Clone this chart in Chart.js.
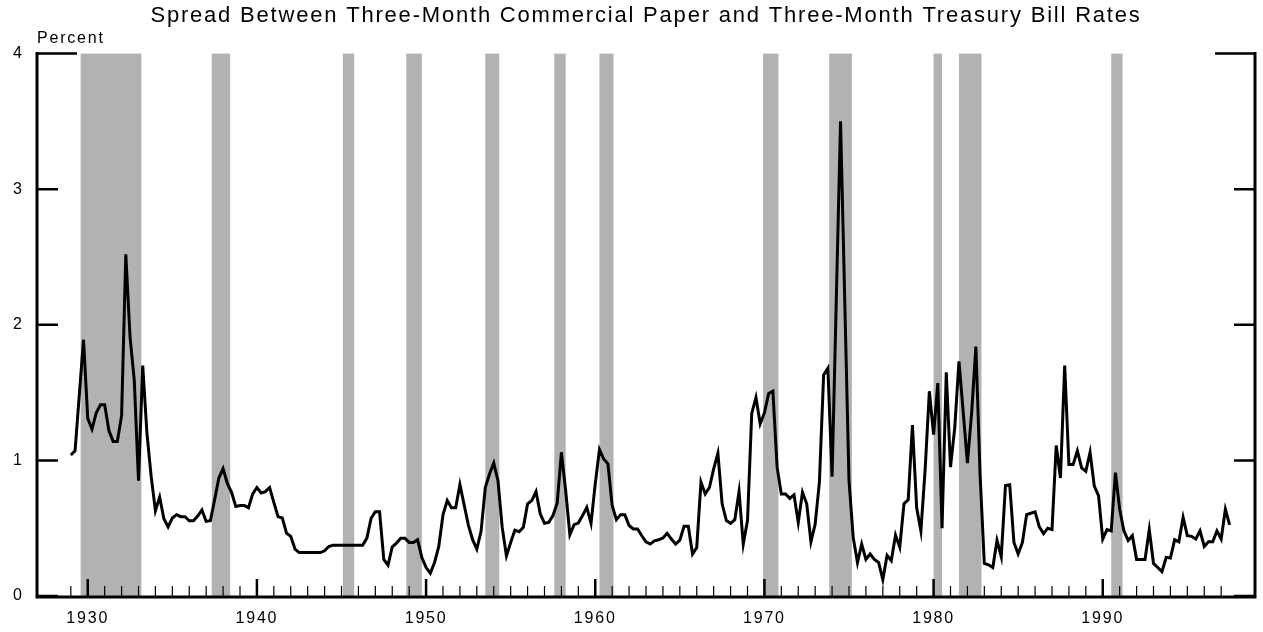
<!DOCTYPE html>
<html>
<head>
<meta charset="utf-8">
<script src="https://cdn.jsdelivr.net/npm/chart.js@4/dist/chart.umd.min.js"></script>
<style>
  html, body { margin: 0; padding: 0; background: #ffffff; }
  #wrap { width: 1263px; height: 632px; }
</style>
</head>
<body>
<div id="wrap"><canvas id="chart" width="1263" height="632"></canvas></div>
<script>
// ---------------- data ----------------
const titleText = 'Spread Between Three-Month Commercial Paper and Three-Month Treasury Bill Rates';
const unitLabel = 'Percent';

// quarterly observations, first one at 1929 Q1 (null = no visible vertex, line runs straight through)
const firstQuarter = 1929.0;
const spread = [
  1.04, 1.07, null, 1.89,          // 1929
  1.31, 1.23, 1.35, 1.41,          // 1930
  1.41, 1.22, 1.14, 1.14,          // 1931
  1.33, 2.52, 1.91, 1.59,          // 1932
  0.85, 1.70, 1.20, 0.88,          // 1933
  0.63, 0.73, 0.57, 0.51,          // 1934
  0.575, 0.60, 0.585, 0.585,       // 1935
  0.555, 0.555, 0.59, 0.635,       // 1936
  0.55, 0.555, 0.71, 0.87,         // 1937
  0.94, 0.83, 0.765, 0.66,         // 1938
  0.667, 0.667, 0.65, 0.753,       // 1939
  0.80, 0.76, 0.77, 0.80,          // 1940
  0.69, 0.585, 0.575, 0.464,       // 1941
  0.44, 0.346, 0.32, 0.32,         // 1942
  0.32, 0.32, 0.32, 0.32,          // 1943
  0.333, 0.365, 0.375, 0.375,      // 1944
  0.375, 0.375, 0.375, 0.375,      // 1945
  0.375, 0.375, 0.427, 0.573,      // 1946
  0.622, 0.622, 0.27, 0.227,       // 1947
  0.363, 0.39, 0.425, 0.425,       // 1948
  0.395, 0.395, 0.415, 0.284,      // 1949
  0.21, 0.168, 0.247, 0.365,       // 1950
  0.598, 0.704, 0.65, 0.65,        // 1951
  0.822, 0.672, 0.523, 0.415,      // 1952
  0.346, 0.477, 0.80, 0.90,        // 1953
  0.98, 0.85, 0.506, 0.296,        // 1954
  0.395, 0.486, 0.474, 0.506,      // 1955
  0.68, 0.704, 0.77, 0.605,        // 1956
  0.536, 0.543, 0.593, 0.684,      // 1957
  1.06, 0.778, 0.452, 0.526,       // 1958
  0.538, 0.593, 0.654, 0.536,      // 1959
  0.827, 1.08, 1.01, 0.975,        // 1960
  0.667, 0.563, 0.60, 0.60,        // 1961
  0.52, 0.494, 0.494, 0.444,       // 1962
  0.40, 0.383, 0.407, 0.415,       // 1963
  0.427, 0.462, 0.42, 0.383,       // 1964
  0.412, 0.514, 0.514, 0.309,      // 1965
  0.358, 0.84, 0.753, 0.80,        // 1966
  0.938, 1.054, 0.68, 0.556,       // 1967
  0.536, 0.563, 0.77, 0.383,       // 1968
  0.556, 1.346, 1.464, 1.27,       // 1969
  1.35, 1.494, 1.51, 0.95,         // 1970
  0.753, 0.753, 0.72, 0.746,       // 1971
  0.543, 0.765, 0.68, 0.40,        // 1972
  0.53, 0.84, 1.63, 1.68,          // 1973
  0.88, null, 3.50, null,          // 1974
  0.85, 0.43, 0.247, 0.383,        // 1975
  0.27, 0.31, 0.27, 0.247,         // 1976
  0.12, 0.30, 0.26, 0.45,          // 1977
  0.36, 0.68, 0.71, 1.26,          // 1978
  0.65, 0.48, 0.93, 1.51,          // 1979
  1.19, 1.57, 0.50, 1.65,          // 1980
  0.95, 1.24, 1.73, 1.36,          // 1981
  0.98, 1.35, 1.84, 0.89,          // 1982
  0.24, 0.23, 0.21, 0.41,          // 1983
  0.29, 0.815, 0.82, 0.395,        // 1984
  0.31, 0.395, 0.60, 0.61,         // 1985
  0.62, 0.51, 0.46, 0.50,          // 1986
  0.49, 1.11, 0.87, 1.70,          // 1987
  0.97, 0.97, 1.07, 0.945,         // 1988
  0.92, 1.06, 0.81, 0.74,          // 1989
  0.42, 0.49, 0.48, 0.91,          // 1990
  0.64, 0.48, 0.41, 0.445,         // 1991
  0.27, 0.27, 0.27, 0.49,          // 1992
  0.24, 0.21, 0.18, 0.285,         // 1993
  0.28, 0.415, 0.40, 0.58,         // 1994
  0.445, 0.44, 0.42, 0.48,         // 1995
  0.365, 0.40, 0.40, 0.48,         // 1996
  0.42, 0.64, 0.525                // 1997
];

// NBER recessions (decimal years)
const recessionStart = [1929.58, 1937.33, 1945.08, 1948.83, 1953.50, 1957.58, 1960.25, 1969.92, 1973.83, 1980.00, 1981.50, 1990.50];
const recessionEnd   = [1933.17, 1938.42, 1945.75, 1949.75, 1954.33, 1958.25, 1961.08, 1970.83, 1975.17, 1980.50, 1982.83, 1991.17];

// axes
const xTickYears = [1930, 1940, 1950, 1960, 1970, 1980, 1990];
const minorTickYears = [];
for (let yr = 1929; yr <= 1997; yr++) minorTickYears.push(yr);
const yTickValues = [0, 1, 2, 3, 4];
const xRange = [1927, 1999];
const yRange = [0, 4];

// ---------------- chart ----------------
const points = spread.map((v, i) => ({ x: firstQuarter + i / 4, y: v }));
const FONT = "'Liberation Sans', Arial, Helvetica, sans-serif";

const spacingPlugin = {
  id: 'spacing',
  beforeUpdate(chart) { chart.ctx.letterSpacing = '1.8px'; },
  beforeDraw(chart) { chart.ctx.letterSpacing = '1.8px'; }
};

const recessionPlugin = {
  id: 'recessions',
  beforeDatasetsDraw(chart) {
    const { ctx, scales: { x, y } } = chart;
    const top = y.getPixelForValue(yRange[1]);
    const bottom = y.getPixelForValue(yRange[0]);
    ctx.save();
    ctx.fillStyle = '#b2b2b2';
    for (let i = 0; i < recessionStart.length; i++) {
      const x1 = x.getPixelForValue(recessionStart[i]);
      const x2 = x.getPixelForValue(recessionEnd[i]);
      ctx.fillRect(x1, top, x2 - x1, bottom - top);
    }
    ctx.restore();
  }
};

const framePlugin = {
  id: 'frame',
  afterDatasetsDraw(chart) {
    const { ctx, scales: { x, y } } = chart;
    const left = x.getPixelForValue(xRange[0]);
    const right = x.getPixelForValue(xRange[1]);
    const top = y.getPixelForValue(yRange[1]);
    const base = y.getPixelForValue(yRange[0]);
    ctx.save();
    ctx.strokeStyle = '#000';
    ctx.lineCap = 'butt';
    ctx.lineWidth = 3;
    ctx.beginPath();
    ctx.moveTo(left, top - 1.5); ctx.lineTo(left, base + 2.5);
    ctx.moveTo(right, top - 1.5); ctx.lineTo(right, base + 2.5);
    ctx.moveTo(left - 1.5, base + 1); ctx.lineTo(right + 1.5, base + 1);
    ctx.stroke();
    ctx.lineWidth = 2.5;
    ctx.beginPath();
    yTickValues.forEach(v => {
      const py = y.getPixelForValue(v);
      const len = v === yRange[1] ? 40 : 21;
      ctx.moveTo(left, py); ctx.lineTo(left + len, py);
      ctx.moveTo(right, py); ctx.lineTo(right - len, py);
    });
    ctx.stroke();
    minorTickYears.forEach(yr => {
      const px = x.getPixelForValue(yr);
      const major = xTickYears.includes(yr);
      ctx.lineWidth = major ? 2.5 : 1.2;
      ctx.beginPath();
      ctx.moveTo(px, base);
      ctx.lineTo(px, base - (major ? 17 : 10));
      ctx.stroke();
    });
    ctx.restore();
  }
};

new Chart(document.getElementById('chart'), {
  type: 'line',
  data: {
    datasets: [{
      data: points,
      borderColor: '#000000',
      borderWidth: 3,
      pointRadius: 0,
      tension: 0,
      spanGaps: true,
      fill: false
    }]
  },
  options: {
    responsive: false,
    devicePixelRatio: 1,
    animation: false,
    layout: { padding: { left: 13, right: 8, top: 0, bottom: 0 } },
    plugins: {
      legend: { display: false },
      tooltip: { enabled: false },
      title: {
        display: true,
        text: titleText,
        fullSize: false,
        color: '#000',
        font: { family: FONT, size: 22, weight: 'normal' },
        padding: { top: 3, bottom: 0 }
      },
      subtitle: {
        display: true,
        text: unitLabel,
        fullSize: false,
        align: 'start',
        color: '#000',
        font: { family: FONT, size: 16, weight: 'normal' },
        padding: { top: 0, bottom: 5 }
      }
    },
    scales: {
      x: {
        type: 'linear',
        min: xRange[0],
        max: xRange[1],
        grid: { display: false, drawTicks: false },
        border: { display: false },
        ticks: {
          color: '#000',
          font: { family: FONT, size: 16 },
          padding: 13,
          maxRotation: 0,
          autoSkip: false,
          callback: v => String(v)
        },
        afterBuildTicks: s => { s.ticks = xTickYears.map(v => ({ value: v })); },
        afterFit: s => { s.height = 36; }
      },
      y: {
        min: yRange[0],
        max: yRange[1],
        grid: { display: false, drawTicks: false },
        border: { display: false },
        ticks: {
          color: '#000',
          font: { family: FONT, size: 16 },
          padding: 14,
          crossAlign: 'far',
          callback: v => String(v)
        },
        afterBuildTicks: s => { s.ticks = yTickValues.map(v => ({ value: v })); },
        afterFit: s => { s.width = 24; }
      }
    }
  },
  plugins: [spacingPlugin, recessionPlugin, framePlugin]
});
</script>
</body>
</html>
